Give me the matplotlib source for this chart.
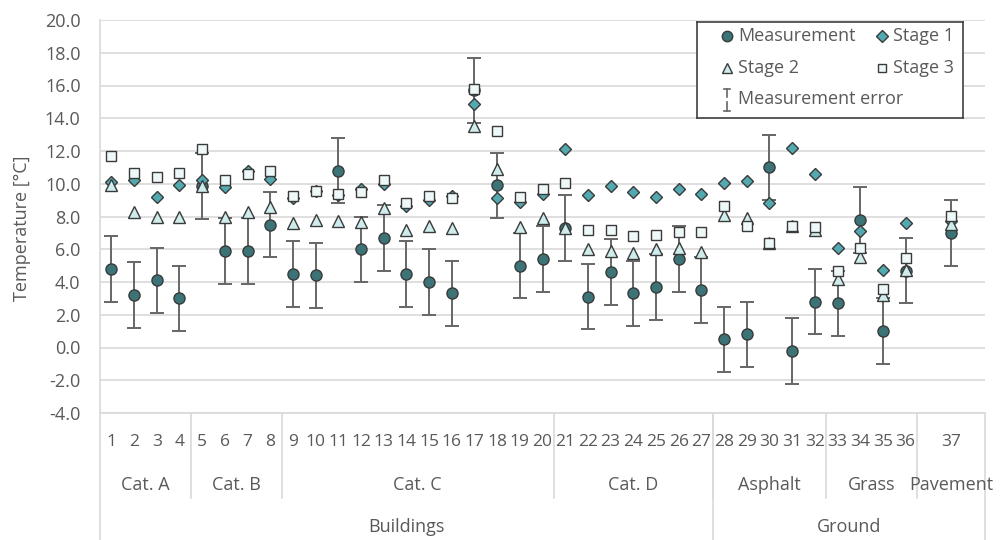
import numpy as np
import matplotlib
matplotlib.use("Agg")
import matplotlib.pyplot as plt
import matplotlib.transforms as mtransforms

plt.rcParams['font.family'] = ['Open Sans', 'DejaVu Sans']

# 39 slots on the axis, blanks around 37 (Pavement group is 3 slots wide)
slot_labels = [str(i) for i in range(1, 37)] + ['', '37', '']

measurement = [4.8, 3.2, 4.1, 3.0, 9.85, 5.9, 5.9, 7.5, 4.5, 4.4,
               10.8, 6.0, 6.7, 4.5, 4.0, 3.3, 15.7, 9.9, 5.0, 5.4,
               7.3, 3.1, 4.6, 3.3, 3.7, 5.4, 3.5, 0.5, 0.8, 11.0,
               -0.2, 2.8, 2.7, 7.8, 1.0, 4.7, 7.0]
stage1 = [10.1, 10.2, 9.2, 9.9, 10.25, 9.8, 10.75, 10.3, 9.1, 9.55,
          9.3, 9.7, 10.0, 8.65, 9.0, 9.25, 14.9, 9.1, 8.9, 9.4,
          12.1, 9.3, 9.85, 9.5, 9.2, 9.65, 9.35, 10.05, 10.15, 8.85,
          12.2, 10.6, 6.05, 7.1, 4.75, 7.6, 7.7]
stage2 = [9.9, 8.3, 8.0, 8.0, 9.85, 8.0, 8.3, 8.6, 7.6, 7.8,
          7.75, 7.65, 8.5, 7.15, 7.45, 7.3, 13.55, 10.9, 7.35, 7.9,
          7.3, 6.0, 5.9, 5.75, 6.0, 6.1, 5.85, 8.1, 7.9, 6.4,
          7.4, 7.2, 4.2, 5.5, 3.2, 4.75, 7.55]
stage3 = [11.7, 10.65, 10.4, 10.65, 12.15, 10.25, 10.6, 10.75, 9.25, 9.55,
          9.4, 9.5, 10.2, 8.8, 9.25, 9.1, 15.8, 13.2, 9.2, 9.65,
          10.05, 7.2, 7.15, 6.8, 6.9, 7.05, 7.05, 8.65, 7.45, 6.4,
          7.45, 7.35, 4.7, 6.1, 3.6, 5.45, 8.05]
meas_error = [2.0] * 37

groups = ['Cat. A', 'Cat. B', 'Cat. C', 'Cat. D', 'Asphalt', 'Grass', 'Pavement']
group_slots = [4, 4, 12, 7, 5, 4, 3]
parents = ['Buildings', 'Ground']
parent_groups = [4, 3]

c_meas = '#3c7377'
c_s1 = '#52a9af'
c_s2 = '#cfeced'
c_s3 = '#eef8f8'
c_edge = '#3a3a3a'
c_err = '#666666'
c_grid = '#d9d9d9'
c_text = '#595959'

xpos = np.array([i for i, s in enumerate(slot_labels) if s != ''])

fig = plt.figure(figsize=(10.01, 5.40), dpi=100)
ax = fig.add_axes([100 / 1001, 1 - 413 / 540, 885 / 1001, 393 / 540])

ax.errorbar(xpos, measurement, yerr=meas_error, fmt='none', ecolor=c_err,
            elinewidth=1.4, capsize=5, capthick=1.4, zorder=2)
ax.plot(xpos, measurement, 'o', ms=8, mfc=c_meas, mec=c_edge, mew=1, zorder=3)
ax.plot(xpos, stage1, 'D', ms=6.5, mfc=c_s1, mec=c_edge, mew=1, zorder=4)
ax.plot(xpos, stage2, '^', ms=8, mfc=c_s2, mec=c_edge, mew=1, zorder=5)
ax.plot(xpos, stage3, 's', ms=7, mfc=c_s3, mec=c_edge, mew=1, zorder=6)

ax.set_xlim(-0.5, len(slot_labels) - 0.5)
ax.set_ylim(-4, 20)
ax.set_yticks(np.arange(-4, 21, 2))
ax.set_yticklabels(['%.1f' % v for v in np.arange(-4, 21, 2)])
ax.set_xticks([])
ax.tick_params(axis='y', length=0, pad=14, labelsize=13, labelcolor=c_text)
ax.grid(axis='y', color=c_grid, lw=1.2)
ax.set_axisbelow(True)
for s in ['top', 'right']:
    ax.spines[s].set_visible(False)
for s in ['left', 'bottom']:
    ax.spines[s].set_color(c_grid)
    ax.spines[s].set_linewidth(1.2)

fig.text(22 / 1001, 1 - 228 / 540, 'Temperature [°C]', rotation=90,
         ha='center', va='center', fontsize=13, color=c_text)

# multi-level category axis below the plot
trans = mtransforms.blended_transform_factory(ax.transData, ax.transAxes)
y_num, y_grp, y_par = -0.074, -0.183, -0.29
y_grp_line, y_bottom = -0.216, -0.33

for x, s in enumerate(slot_labels):
    if s:
        ax.text(x, y_num, s, transform=trans, ha='center', va='center',
                fontsize=12.5, color=c_text)

edges = np.concatenate([[0], np.cumsum(group_slots)]) - 0.5
for i, g in enumerate(groups):
    ax.text((edges[i] + edges[i + 1]) / 2, y_grp, g, transform=trans,
            ha='center', va='center', fontsize=13, color=c_text)
for e in edges[1:-1]:
    ax.plot([e, e], [0, y_grp_line], transform=trans, color=c_grid, lw=1.2, clip_on=False)

pedges = edges[np.concatenate([[0], np.cumsum(parent_groups)])]
for i, p in enumerate(parents):
    ax.text((pedges[i] + pedges[i + 1]) / 2, y_par, p, transform=trans,
            ha='center', va='center', fontsize=13, color=c_text)
for e in pedges:
    ax.plot([e, e], [0, y_bottom], transform=trans, color=c_grid, lw=1.2, clip_on=False)

# legend box drawn by hand, Excel style
lg = fig.add_axes([697 / 1001, 1 - 118 / 540, 266 / 1001, 96 / 540])
lg.set_xlim(0, 266)
lg.set_ylim(96, 0)
lg.set_xticks([])
lg.set_yticks([])
lg.set_facecolor('white')
for s in lg.spines.values():
    s.set_color('#404040')
    s.set_linewidth(1.2)

lg.plot(30, 14, 'o', ms=7.5, mfc=c_meas, mec=c_edge, mew=1)
lg.text(41, 14, 'Measurement', va='center', fontsize=13, color=c_text)
lg.plot(185, 14, 'D', ms=6, mfc=c_s1, mec=c_edge, mew=1)
lg.text(196, 14, 'Stage 1', va='center', fontsize=13, color=c_text)
lg.plot(30, 46, '^', ms=7, mfc=c_s2, mec=c_edge, mew=1)
lg.text(41, 46, 'Stage 2', va='center', fontsize=13, color=c_text)
lg.plot(185, 46, 's', ms=6, mfc=c_s3, mec=c_edge, mew=1)
lg.text(196, 46, 'Stage 3', va='center', fontsize=13, color=c_text)
lg.plot([30, 30], [67, 75], color=c_err, lw=1.2)
lg.plot([30, 30], [80, 89], color=c_err, lw=1.2)
lg.plot([27, 33], [67, 67], color=c_err, lw=1.2)
lg.plot([27, 33], [89, 89], color=c_err, lw=1.2)
lg.text(41, 77, 'Measurement error', va='center', fontsize=13, color=c_text)

fig.savefig('out.png', dpi=100)
